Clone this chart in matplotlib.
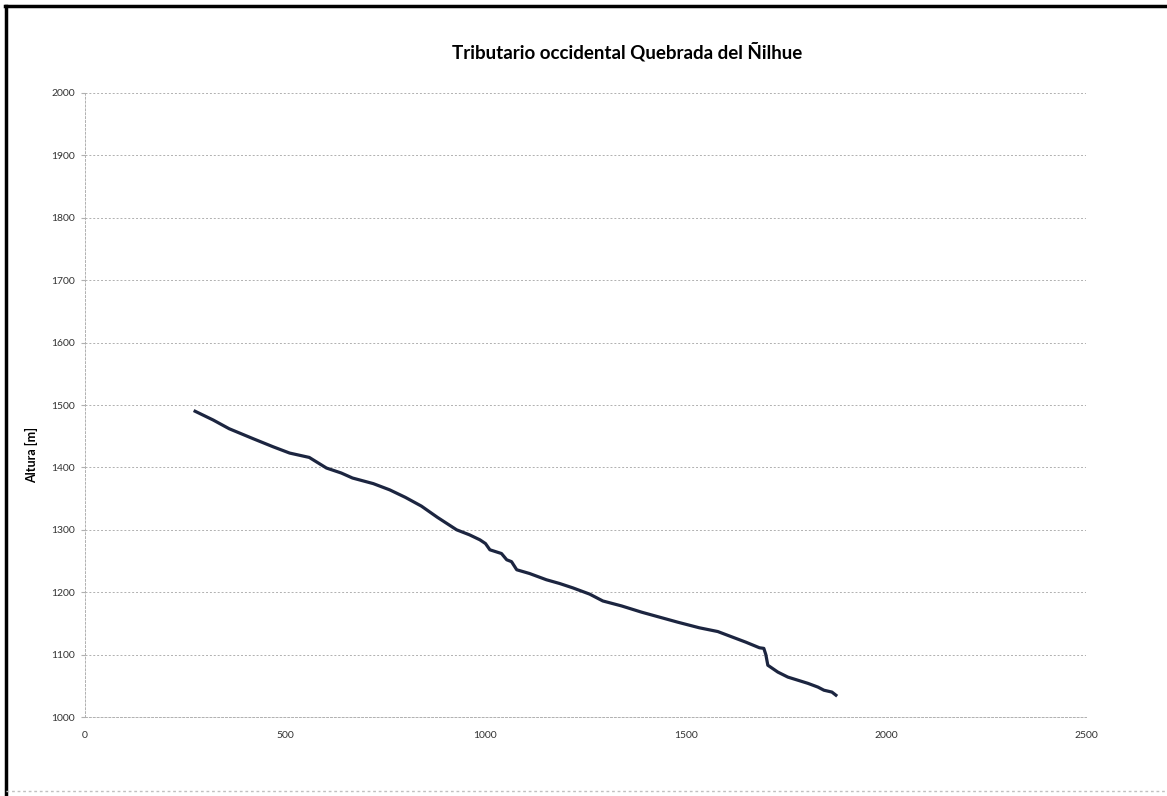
import matplotlib.pyplot as plt
from matplotlib.lines import Line2D
import matplotlib.ticker as ticker

# Longitudinal profile
distancia = [275, 320, 360, 420, 470, 511, 560, 603, 640, 668, 720, 761,
             800, 840, 880, 928, 960, 986, 1000, 1011, 1040, 1053, 1065,
             1078, 1110, 1152, 1185, 1218, 1260, 1293, 1340, 1390, 1435,
             1480, 1534, 1580, 1617, 1650, 1684, 1695, 1700, 1705, 1730,
             1755, 1780, 1805, 1830, 1845, 1865, 1875]
altura = [1490, 1476, 1462, 1446, 1433, 1423, 1416, 1399, 1391, 1383, 1374,
          1364, 1352, 1338, 1320, 1300, 1292, 1284, 1278, 1268, 1262, 1252,
          1249, 1236, 1230, 1220, 1214, 1207, 1197, 1186, 1178, 1168, 1160,
          1152, 1143, 1137, 1128, 1120, 1111, 1110, 1100, 1083, 1072, 1064,
          1059, 1054, 1048, 1043, 1040, 1035]

titulo = "Tributario occidental Quebrada del Ñilhue"
etiqueta_y = "Altura [m]"

plt.rcParams['font.family'] = ['Lato', 'DejaVu Sans']

fig = plt.figure(figsize=(11.67, 7.96), dpi=100)
ax = fig.add_axes([0.0728, 0.0992, 0.858, 0.784])

ax.plot(distancia, altura, color='#1c2540', linewidth=2.3)

# Axis limits and ticks
ax.set_xlim(0, 2500)
ax.set_ylim(1000, 2000)
ax.xaxis.set_major_locator(ticker.MultipleLocator(500))
ax.yaxis.set_major_locator(ticker.MultipleLocator(100))

# Horizontal dashed gridlines only
ax.grid(axis='y', color='#b0b0b0', linestyle=(0, (2, 2)), linewidth=0.7)
ax.set_axisbelow(True)

for side in ['top', 'right']:
    ax.spines[side].set_visible(False)
ax.spines['left'].set_color('#b0b0b0')
ax.spines['left'].set_linestyle((0, (2, 2)))
ax.spines['left'].set_linewidth(0.7)
ax.spines['bottom'].set_color('#b0b0b0')
ax.spines['bottom'].set_linestyle((0, (2, 2)))
ax.spines['bottom'].set_linewidth(0.7)

ax.tick_params(axis='y', length=3, color='#b0b0b0', labelsize=7.5, pad=4,
               labelcolor='#333333')
ax.tick_params(axis='x', length=0, labelsize=7.5, pad=10,
               labelcolor='#333333')

fig.text(0.027, 0.428, etiqueta_y, ha='center', va='center', rotation=90,
         fontsize=9, fontweight='bold')
fig.text(0.537, 0.935, titulo, ha='center', va='center', fontsize=13.5,
         fontweight='bold')

# Outer chart border: black on left and top, faint dotted at bottom
fig.lines.append(Line2D([0.005, 0.005], [0.0, 0.993],
                        transform=fig.transFigure, color='black',
                        linewidth=2.5))
fig.lines.append(Line2D([0.004, 1.0], [0.993, 0.993],
                        transform=fig.transFigure, color='black',
                        linewidth=2.5))
fig.lines.append(Line2D([0.005, 1.0], [0.006, 0.006],
                        transform=fig.transFigure, color='#c0c0c0',
                        linewidth=1.0, linestyle=(0, (2, 2))))

plt.savefig('out.png', dpi=100)
